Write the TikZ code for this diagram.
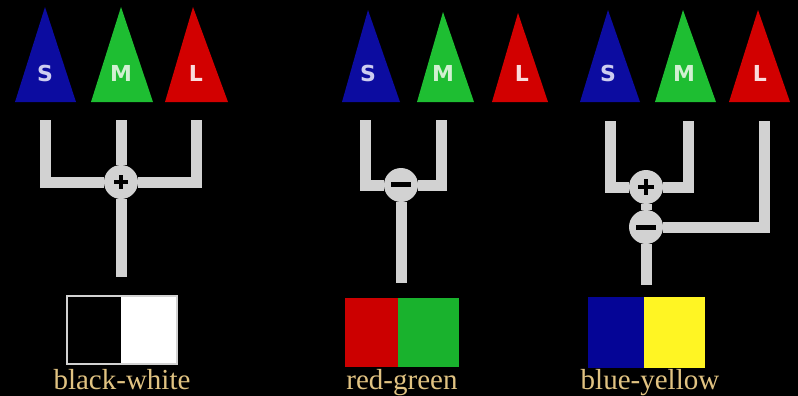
\documentclass[tikz,border=0pt]{standalone}
\usepackage{fontspec}
\setmainfont{Liberation Serif}
\newfontfamily\conefont{DejaVu Sans}

\definecolor{coneblue}{RGB}{12,12,160}
\definecolor{conegreen}{RGB}{30,190,50}
\definecolor{conered}{RGB}{210,0,0}
\definecolor{wiregray}{RGB}{210,210,210}
\definecolor{swred}{RGB}{204,0,0}
\definecolor{swgreen}{RGB}{25,178,45}
\definecolor{swblue}{RGB}{5,5,150}
\definecolor{swyellow}{RGB}{255,245,35}
\definecolor{labelgold}{RGB}{225,195,130}

\begin{document}
\begin{tikzpicture}[x=0.5pt, y=-0.5pt,
        wire/.style={draw=wiregray, line width=5.5pt, line join=miter},
        junction/.style={circle, fill=wiregray, minimum size=17pt, inner sep=0pt},
        sign/.style={draw=black, line width=2pt},
        letter/.style={font=\conefont\bfseries\fontsize{11}{11}\selectfont},
        caption/.style={font=\fontsize{14.5}{15}\selectfont, text=labelgold, anchor=base}]

        \fill[black] (0, 0) rectangle (798, 396);
        \useasboundingbox (0, 0) rectangle (798, 396);

        % cones
        \fill[coneblue]  (45, 7)   -- (76, 102)  -- (15, 102)  -- cycle;
        \fill[conegreen] (121, 7)  -- (153, 102) -- (91, 102)  -- cycle;
        \fill[conered]   (193, 7)  -- (228, 102) -- (165, 102) -- cycle;

        \fill[coneblue]  (368, 10) -- (400, 102) -- (342, 102) -- cycle;
        \fill[conegreen] (443, 12) -- (474, 102) -- (417, 102) -- cycle;
        \fill[conered]   (518, 13) -- (548, 102) -- (492, 102) -- cycle;

        \fill[coneblue]  (608, 10) -- (640, 102) -- (580, 102) -- cycle;
        \fill[conegreen] (683, 10) -- (716, 102) -- (655, 102) -- cycle;
        \fill[conered]   (758, 10) -- (790, 102) -- (729, 102) -- cycle;

        \node[letter, text={rgb,255:red,205;green,205;blue,240}] (S1) at (45, 73)  {S};
        \node[letter, text={rgb,255:red,210;green,240;blue,210}] (M1) at (121, 73) {M};
        \node[letter, text={rgb,255:red,250;green,220;blue,220}] (L1) at (196, 73) {L};
        \node[letter, text={rgb,255:red,205;green,205;blue,240}] (S2) at (368, 73) {S};
        \node[letter, text={rgb,255:red,210;green,240;blue,210}] (M2) at (443, 73) {M};
        \node[letter, text={rgb,255:red,250;green,220;blue,220}] (L2) at (522, 73) {L};
        \node[letter, text={rgb,255:red,205;green,205;blue,240}] (S3) at (608, 73) {S};
        \node[letter, text={rgb,255:red,210;green,240;blue,210}] (M3) at (684, 73) {M};
        \node[letter, text={rgb,255:red,250;green,220;blue,220}] (L3) at (760, 73) {L};

        % wire ends
        \coordinate (S1w) at (45, 120);
        \coordinate (M1w) at (121, 120);
        \coordinate (L1w) at (196, 120);
        \coordinate (out1) at (121, 277);
        \coordinate (S2w) at (365, 120);
        \coordinate (M2w) at (441, 120);
        \coordinate (out2) at (401, 283);
        \coordinate (S3w) at (610, 121);
        \coordinate (M3w) at (688, 121);
        \coordinate (L3w) at (764, 121);
        \coordinate (out3) at (646, 285);

        % black-white channel
        \node[junction] (sum1) at (121, 182) {};
        \draw[wire] (S1w) |- (sum1);
        \draw[wire] (L1w) |- (sum1);
        \draw[wire] (M1w) -- (sum1) -- (out1);
        \draw[sign] (sum1.center) ++(-7, 0) -- ++(14, 0);
        \draw[sign] (sum1.center) ++(0, -7) -- ++(0, 14);

        % red-green channel
        \node[junction] (diff2) at (401, 185) {};
        \draw[wire] (S2w) |- (diff2);
        \draw[wire] (M2w) |- (diff2);
        \draw[wire] (diff2) -- (out2);
        \draw[sign, line width=2.5pt] (diff2.center) ++(-10, -1) -- ++(20, 0);

        % blue-yellow channel
        \node[junction] (sum3) at (646, 187) {};
        \node[junction] (diff3) at (646, 227) {};
        \draw[wire] (S3w) |- (sum3);
        \draw[wire] (M3w) |- (sum3);
        \draw[wire] (sum3) -- (diff3);
        \draw[wire] (L3w) |- (diff3);
        \draw[wire] (diff3) -- (out3);
        \draw[sign] (sum3.center) ++(-8, 0) -- ++(16, 0);
        \draw[sign] (sum3.center) ++(0, -8) -- ++(0, 16);
        \draw[sign, line width=2.5pt] (diff3.center) ++(-10, 0) -- ++(20, 0);

        % colour swatches
        \fill[black] (67, 296) rectangle (121, 364);
        \fill[white] (121, 296) rectangle (177, 364);
        \draw[wiregray, line width=1pt] (67, 296) rectangle (177, 364);
        \fill[swred] (345, 298) rectangle (398, 367);
        \fill[swgreen] (398, 298) rectangle (459, 367);
        \fill[swblue] (588, 297) rectangle (644, 368);
        \fill[swyellow] (644, 297) rectangle (705, 368);

        \node[caption] (bwlabel) at (122, 389) {black-white};
        \node[caption] (rglabel) at (402, 389) {red-green};
        \node[caption] (bylabel) at (650, 389) {blue-yellow};
    \end{tikzpicture}
\end{document}
